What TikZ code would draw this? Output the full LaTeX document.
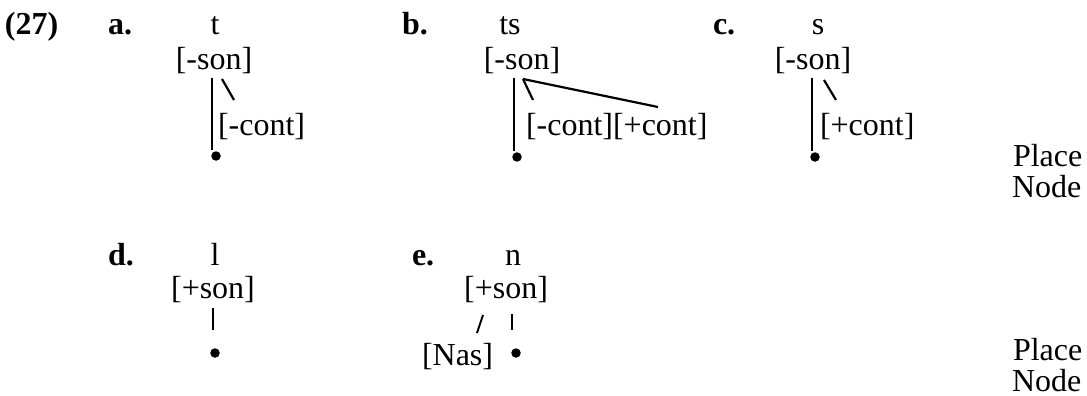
\documentclass[tikz,border=0pt]{standalone}
\usepackage{fontspec}
\setmainfont{Liberation Serif}
\begin{document}
\begin{tikzpicture}[x=1pt,y=-1pt,
  every node/.style={inner sep=0pt,outer sep=0pt,font=\fontsize{32}{38}\selectfont},
  txt/.style={anchor=base},
  txtl/.style={anchor=base west},
  lab/.style={anchor=base west,font=\fontsize{32}{38}\selectfont\bfseries},
  assoc/.style={line width=2.2pt},
  thin/.style={line width=2pt},
  dotnode/.style={circle,fill=black,minimum size=9.5pt}]
\useasboundingbox (0,0) rectangle (1087,396);
% (27) a.
\node[lab] (n27) at (5,35) {(27)};
\node[lab] (la) at (108,35) {a.};
\node[txt] (ta) at (215,35) {t};
\node[txt] (sa) at (214,70) {[-son]};
\node[txtl] (ca) at (218,135) {[-cont]};
\node[dotnode] (dota) at (216,156) {};
\coordinate (a1) at (212,78); \coordinate (a2) at (212,150);
\coordinate (a3) at (222,79); \coordinate (a4) at (234,100);
\draw[assoc] (a1) -- (a2);
\draw[assoc] (a3) -- (a4);
% b.
\node[lab] (lb) at (402,35) {b.};
\node[txt] (tb) at (510,35) {ts};
\node[txt] (sb) at (522,70) {[-son]};
\node[txtl] (cb) at (526,135) {[-cont][+cont]};
\node[dotnode] (dotb) at (517,157) {};
\coordinate (b1) at (514,78); \coordinate (b2) at (514,151);
\coordinate (b3) at (523,79); \coordinate (b4) at (533,100);
\coordinate (b5) at (658,107);
\draw[assoc] (b1) -- (b2);
\draw[assoc] (b3) -- (b4);
\draw[assoc] (b3) -- (b5);
% c.
\node[lab] (lc) at (713,35) {c.};
\node[txt] (tc) at (818,35) {s};
\node[txt] (sc) at (813,70) {[-son]};
\node[txtl] (cc) at (820,135) {[+cont]};
\node[dotnode] (dotc) at (815,157) {};
\coordinate (c1) at (812,78); \coordinate (c2) at (812,151);
\coordinate (c3) at (824,80); \coordinate (c4) at (836,100);
\draw[assoc] (c1) -- (c2);
\draw[assoc] (c3) -- (c4);
\node[txtl] (p1) at (1013,166) {Place};
\node[txtl] (nd1) at (1012,197) {Node};
% d.
\node[lab] (ld) at (108,265) {d.};
\node[txt] (td) at (215,265) {l};
\node[txt] (sd) at (213,298) {[+son]};
\node[dotnode] (dotd) at (215,353) {};
\coordinate (d1) at (213,308); \coordinate (d2) at (213,330);
\draw[thin] (d1) -- (d2);
% e.
\node[lab] (le) at (412,265) {e.};
\node[txt] (te) at (513,265) {n};
\node[txt] (se) at (506,298) {[+son]};
\node[txtl] (nas) at (422,365) {[Nas]};
\node[dotnode] (dote) at (516,353) {};
\coordinate (e1) at (483,315); \coordinate (e2) at (477,333);
\coordinate (e3) at (512,314); \coordinate (e4) at (512,330);
\draw[thin] (e1) -- (e2);
\draw[thin] (e3) -- (e4);
\node[txtl] (p2) at (1013,360) {Place};
\node[txtl] (nd2) at (1012,391) {Node};
\end{tikzpicture}
\end{document}
